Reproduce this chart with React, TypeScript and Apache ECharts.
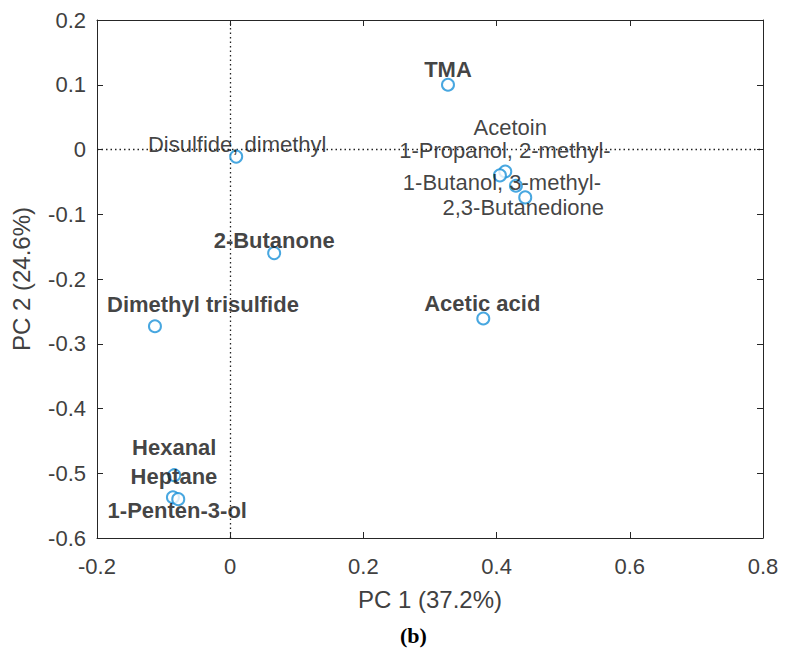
import React, { useEffect, useRef } from "react";
import * as echarts from "echarts";

const compounds = [
  "TMA",
  "Disulfide, dimethyl",
  "Acetoin",
  "1-Propanol, 2-methyl-",
  "1-Butanol, 3-methyl-",
  "2,3-Butanedione",
  "2-Butanone",
  "Dimethyl trisulfide",
  "Acetic acid",
  "Hexanal",
  "Heptane",
  "1-Penten-3-ol",
];
const pc1 = [0.327, 0.009, 0.413, 0.405, 0.429, 0.443, 0.066, -0.113, 0.38, -0.084, -0.086, -0.078];
const pc2 = [0.1, -0.011, -0.034, -0.04, -0.056, -0.074, -0.16, -0.273, -0.261, -0.503, -0.537, -0.54];
const boldLabel = [true, false, false, false, false, false, true, true, true, true, true, true];
// label offsets (px) relative to each marker
const labelOffsets: [number, number][] = [
  [0, -15],
  [1, -12],
  [5, -44],
  [5, -25],
  [-14, -3],
  [-2, 10],
  [0, -13],
  [48, -22],
  [-1, -15],
  [0, -28],
  [1, -21],
  [-1, 11],
];

const xTicks = { min: -0.2, max: 0.8, interval: 0.2 };
const yTicks = { min: -0.6, max: 0.2, interval: 0.1 };

const FONT = "'Liberation Sans', Arial, Helvetica, sans-serif";

export default function App() {
  const ref = useRef<HTMLDivElement>(null);
  useEffect(() => {
    if (!ref.current) return;
    const chart = echarts.init(ref.current, undefined, { renderer: "svg" });
    const axisLine = { show: true, onZero: false, lineStyle: { color: "#262626", width: 1 } };
    const tick = { show: true, inside: true, length: 6, lineStyle: { color: "#262626" } };
    const fmt = (v: number) => {
      const r = Math.round(v * 10) / 10;
      return r === 0 ? "0" : String(r);
    };
    const data = compounds.map((n, i) => ({
      name: n,
      value: [pc1[i], pc2[i]],
      label: {
        show: true,
        position: "inside",
        offset: labelOffsets[i],
        formatter: n,
        fontFamily: FONT,
        fontSize: 22,
        lineHeight: 20,
        fontWeight: boldLabel[i] ? "bold" : "normal",
        color: "#111",
      },
    }));
    chart.setOption({
      animation: false,
      grid: { left: 97, right: 23, top: 20, bottom: 121, containLabel: false },
      xAxis: [
        {
          type: "value",
          ...xTicks,
          position: "bottom",
          axisLine,
          axisTick: tick,
          axisLabel: { margin: 17, fontFamily: FONT, fontSize: 22, color: "#404040", formatter: fmt },
          splitLine: { show: false },
          name: "PC 1 (37.2%)",
          nameLocation: "middle",
          nameGap: 49,
          nameTextStyle: { fontFamily: FONT, fontSize: 24, color: "#404040" },
        },
        {
          type: "value",
          ...xTicks,
          position: "top",
          axisLine,
          axisTick: tick,
          axisLabel: { show: false },
          splitLine: { show: false },
        },
      ],
      yAxis: [
        {
          type: "value",
          ...yTicks,
          position: "left",
          axisLine,
          axisTick: tick,
          axisLabel: { margin: 11, fontFamily: FONT, fontSize: 22, color: "#404040", formatter: fmt },
          splitLine: { show: false },
          name: "PC 2 (24.6%)",
          nameLocation: "middle",
          nameGap: 64,
          nameTextStyle: { fontFamily: FONT, fontSize: 24, color: "#404040" },
        },
        {
          type: "value",
          ...yTicks,
          position: "right",
          axisLine,
          axisTick: tick,
          axisLabel: { show: false },
          splitLine: { show: false },
        },
      ],
      graphic: [
        {
          type: "text",
          left: 400,
          top: 624,
          style: {
            text: "(b)",
            font: "bold 22px 'Liberation Serif', 'Times New Roman', serif",
            fill: "#000",
          },
        },
      ],
      series: [
        {
          type: "scatter",
          xAxisIndex: 0,
          yAxisIndex: 0,
          symbol: "emptyCircle",
          symbolSize: 12,
          itemStyle: { color: "#1A91D8", borderColor: "#1A91D8", borderWidth: 1.6 },
          data,
          z: 3,
          markLine: {
            silent: true,
            symbol: "none",
            label: { show: false },
            lineStyle: { type: [1.5, 3], color: "#222", width: 1.3 },
            data: [{ xAxis: 0 }, { yAxis: 0 }],
            z: 1,
          },
        },
      ],
    });
    return () => chart.dispose();
  }, []);
  return <div ref={ref} style={{ width: 786, height: 659, position: "absolute", left: 0, top: 0 }} />;
}
